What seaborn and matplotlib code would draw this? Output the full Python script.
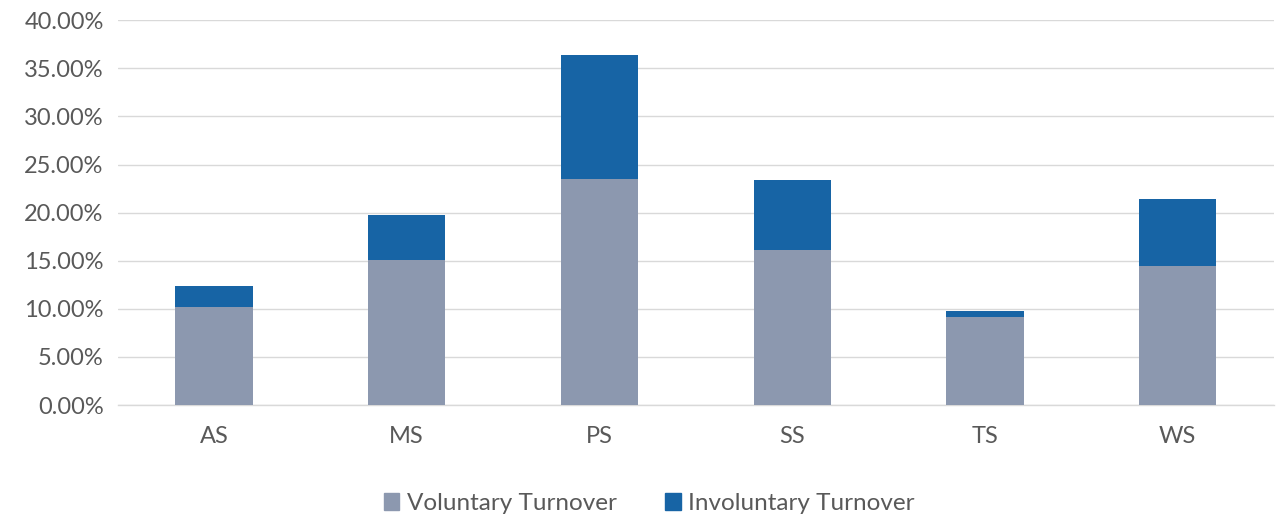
import matplotlib
matplotlib.use("Agg")
import matplotlib.pyplot as plt
import seaborn as sns
import pandas as pd
from matplotlib.ticker import PercentFormatter
from matplotlib.patches import Patch

# data (percent)
schools = ["AS", "MS", "PS", "SS", "TS", "WS"]
voluntary = [10.24, 15.10, 23.51, 16.15, 9.17, 14.41]
involuntary = [2.16, 4.69, 12.84, 7.29, 0.65, 7.02]

VOL_COLOR = "#8C98AF"
INV_COLOR = "#1764A5"
TEXT_COLOR = "#595959"


def main():
    df = pd.DataFrame({"school": schools, "voluntary": voluntary, "involuntary": involuntary})

    sns.set_style("white")
    plt.rcParams["font.family"] = ["Lato", "DejaVu Sans"]

    fig = plt.figure(figsize=(12.78, 5.18), dpi=100)
    ax = fig.add_axes([0.092, 0.218, 0.905, 0.743])

    sns.barplot(data=df, x="school", y="voluntary", color=VOL_COLOR, width=0.4,
                saturation=1, linewidth=0, ax=ax, zorder=3)
    sns.barplot(data=df, x="school", y="involuntary", color=INV_COLOR, width=0.4,
                saturation=1, linewidth=0, bottom=df["voluntary"], ax=ax, zorder=3)

    ax.set_ylim(0, 40)
    ax.set_yticks(range(0, 41, 5))
    ax.yaxis.set_major_formatter(PercentFormatter(decimals=2))
    ax.set_xlim(-0.5, len(schools) - 0.5)
    ax.grid(axis="y", color="#D9D9D9", linewidth=1, zorder=0)
    ax.set_xlabel("")
    ax.set_ylabel("")

    for side in ["top", "right", "left"]:
        ax.spines[side].set_visible(False)
    ax.spines["bottom"].set_color("#D9D9D9")
    ax.spines["bottom"].set_linewidth(1)

    ax.tick_params(axis="both", length=0, labelsize=17, colors=TEXT_COLOR)
    ax.tick_params(axis="y", pad=10)
    ax.tick_params(axis="x", pad=15)

    handles = [Patch(color=VOL_COLOR, label="Voluntary Turnover"),
               Patch(color=INV_COLOR, label="Involuntary Turnover")]
    leg = fig.legend(handles=handles, loc="center", bbox_to_anchor=(0.508, 0.028), ncol=2,
                     frameon=False, fontsize=17.5, handlelength=0.65, handleheight=0.65,
                     handletextpad=0.3, columnspacing=2.0)
    for t in leg.get_texts():
        t.set_color(TEXT_COLOR)

    fig.savefig("out.png", dpi=100)


if __name__ == "__main__":
    main()
